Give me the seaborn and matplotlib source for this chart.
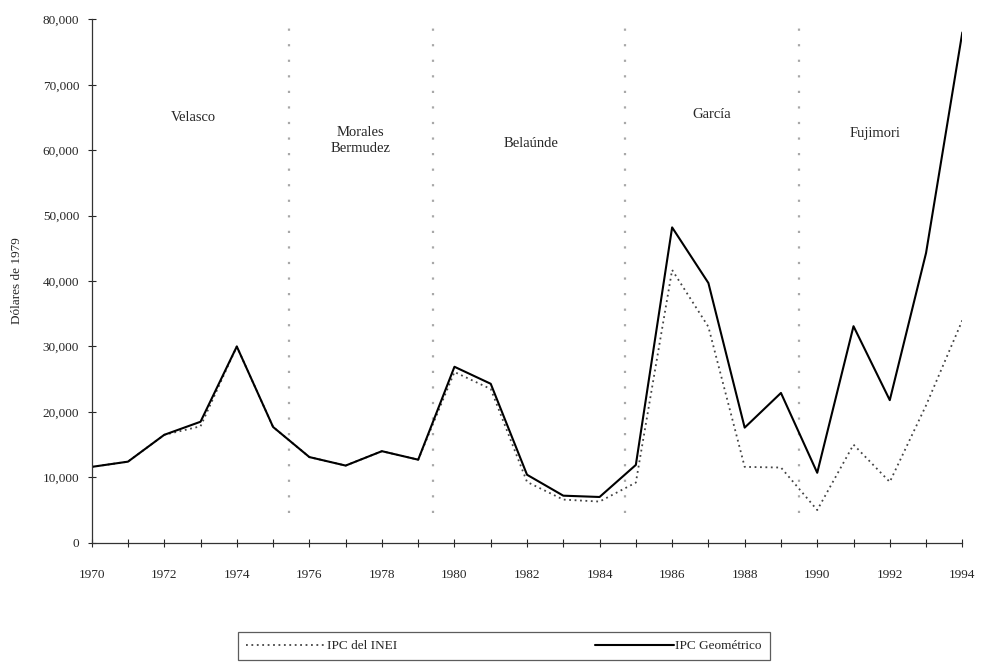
"""Peru: real values per period (IPC del INEI vs IPC geometrico)."""

import pandas as pd
import numpy as np
import matplotlib.pyplot as plt
import seaborn as sns

years = list(range(1970, 1995))
ipc_geometrico = [11600, 12400, 16500, 18500, 30000, 17700, 13100, 11800, 14000, 12700,
                  26900, 24300, 10400, 7200, 7000, 11900, 48200, 39700, 17600, 22900,
                  10700, 33100, 21800, 44300, 78000]
ipc_inei = [11600, 12400, 16500, 17800, 30000, 17700, 13100, 11800, 14000, 12700,
            26100, 23500, 9300, 6600, 6300, 9200, 41700, 33000, 11600, 11500,
            5000, 15000, 9300, 21000, 34000]

period_breaks = [1975.45, 1979.4, 1984.7, 1989.5]
period_names = ["Velasco", "Morales\nBermudez", "Belaúnde", "García", "Fujimori"]
period_label_x = [1972.8, 1977.4, 1982.1, 1987.1, 1991.6]
period_label_y = [65000, 61500, 61000, 65500, 62500]

df = pd.DataFrame({"year": years, "IPC del INEI": ipc_inei, "IPC Geométrico": ipc_geometrico})

sns.set_style("ticks")
plt.rcParams['font.family'] = ['Liberation Serif', 'DejaVu Serif']

fig = plt.figure(figsize=(9.86, 6.66), dpi=100)
ax = fig.add_axes([0.093, 0.185, 0.883, 0.786])

# period boundaries
ax.vlines(period_breaks, 4500, 80000, colors="#a8a8a8", linestyles=(0, (1, 6)), linewidth=1.6)

sns.lineplot(data=df, x="year", y="IPC del INEI", ax=ax, color="#444444",
             linestyle=(0, (1, 2)), linewidth=1.3, label="IPC del INEI")
sns.lineplot(data=df, x="year", y="IPC Geométrico", ax=ax, color="black",
             linewidth=1.5, label="IPC Geométrico")

for name, x, y in zip(period_names, period_label_x, period_label_y):
    ax.text(x, y, name, ha="center", va="center", fontsize=10.5, linespacing=1.3)

ax.set_xlim(1970, 1994)
ax.set_ylim(0, 80000)
ax.set_xticks(range(1970, 1995, 2))
ax.set_xticks(range(1970, 1995), minor=True)
ax.set_yticks(range(0, 80001, 10000))
ax.set_yticklabels(["0"] + [f"{v:,}" for v in range(10000, 80001, 10000)])
ax.tick_params(axis="both", direction="inout", length=6, width=0.8, labelsize=9.5)
ax.tick_params(axis="x", which="minor", direction="inout", length=6, width=0.8)
ax.tick_params(axis="x", pad=16)
ax.tick_params(axis="y", pad=6)
ax.set_xlabel("")
ax.set_ylabel("Dólares de 1979", fontsize=9.5, labelpad=14)
sns.despine(ax=ax)
for s in ["left", "bottom"]:
    ax.spines[s].set_color("#333333")
    ax.spines[s].set_linewidth(0.9)

ax.get_legend().remove()
handles, labels = ax.get_legend_handles_labels()
leg = fig.legend(handles, labels, loc="center", bbox_to_anchor=(0.511, 0.03), ncol=2,
                 frameon=True, fancybox=False, edgecolor="#333333", handlelength=6,
                 columnspacing=15, fontsize=9.5, borderpad=0.6, handletextpad=0.1)
leg.get_frame().set_linewidth(0.9)

fig.savefig("out.png", dpi=100)
